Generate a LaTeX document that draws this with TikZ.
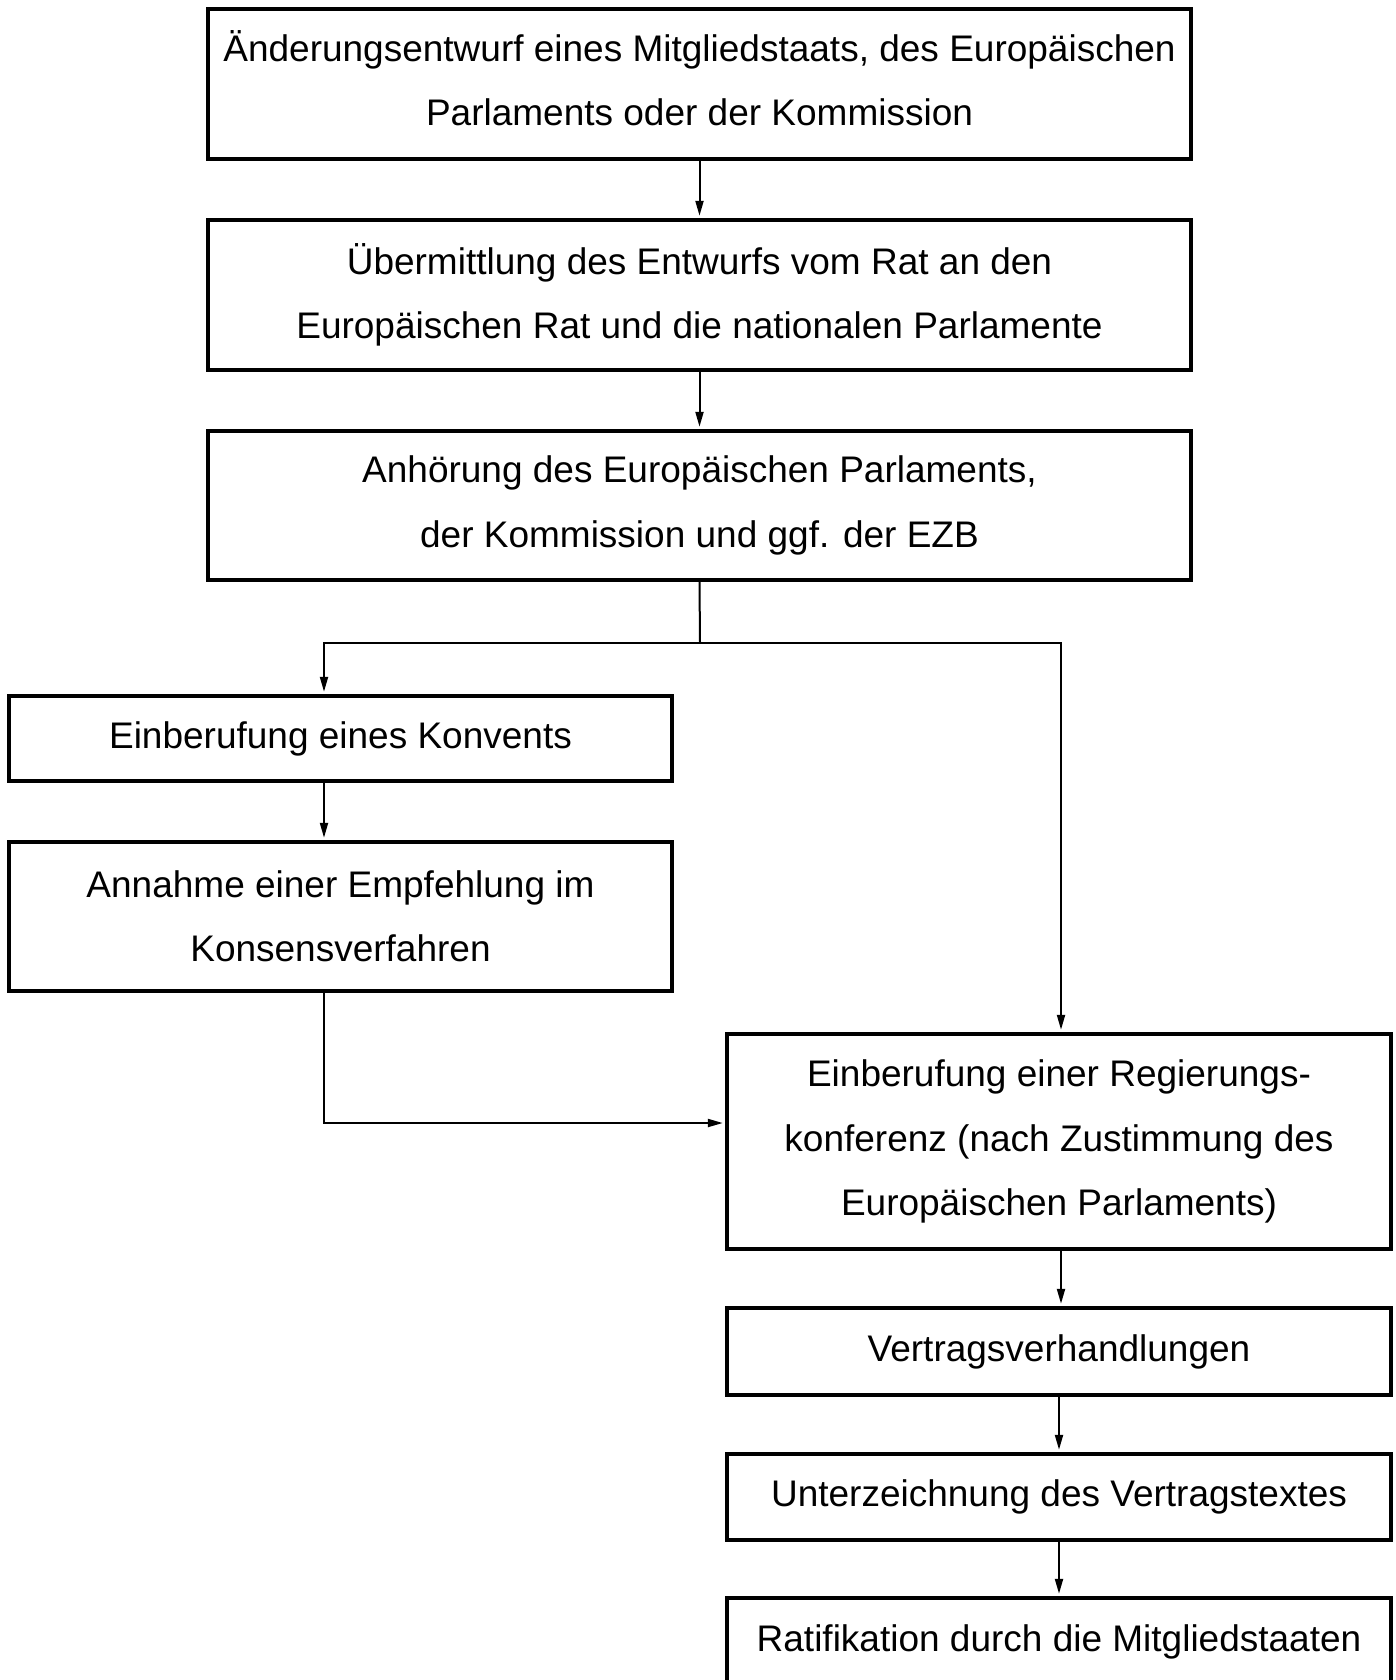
\documentclass[tikz,border=0pt]{standalone}
\usepackage{fontspec}
\setmainfont{Liberation Sans}
\usetikzlibrary{arrows.meta}
\begin{document}
\begin{tikzpicture}[x=0.5pt,y=-0.5pt,
  box/.style={draw, line width=2.2pt, inner sep=0pt, align=center,
    font=\fontsize{18.5}{32.2}\selectfont},
  line/.style={line width=1pt},
  arr/.style={line width=1pt, -{Triangle[length=7.5pt,width=4pt]}, shorten >=1pt}]
\clip (0,0) rectangle (1396,1680);
\useasboundingbox (0,0) rectangle (1396,1680);
\node[box, minimum width=491.5pt, minimum height=75pt] (b1) at (699.5,84)
  {Änderungsentwurf eines Mitgliedstaats, des Europäischen\\Parlaments oder der Kommission\rule[-6pt]{0pt}{0pt}};
\node[box, minimum width=491.5pt, minimum height=75pt] (b2) at (699.5,295)
  {Übermittlung des Entwurfs vom Rat an den\\Europäischen Rat und die nationalen Parlamente};
\node[box, minimum width=491.5pt, minimum height=74.5pt] (b3) at (699.5,505.5)
  {Anhörung des Europäischen Parlaments,\\der Kommission und ggf. der EZB};
\node[box, minimum width=331.5pt, minimum height=42.5pt] (b4) at (340.5,738.5)
  {Einberufung eines Konvents};
\node[box, minimum width=331.5pt, minimum height=74.5pt] (b5) at (340.5,916.5)
  {Annahme einer Empfehlung im\\Konsensverfahren};
\node[box, minimum width=332pt, minimum height=107.5pt] (b6) at (1059,1141.5)
  {Einberufung einer Regierungs-\\konferenz (nach Zustimmung des\\Europäischen Parlaments)};
\node[box, minimum width=332pt, minimum height=43.5pt] (b7) at (1059,1351.5)
  {Vertragsverhandlungen};
\node[box, minimum width=332pt, minimum height=43pt] (b8) at (1059,1497)
  {Unterzeichnung des Vertragstextes};
\node[box, minimum width=332pt, minimum height=44pt] (b9) at (1059,1642)
  {Ratifikation durch die Mitgliedstaaten};
\coordinate (split) at (700,643);
\coordinate (lx) at (324,0);
\coordinate (rx) at (1061,0);
\coordinate (join) at (324,1123);
\draw[arr] (b1.south) -- (b2.north);
\draw[arr] (b2.south) -- (b3.north);
\draw[line] (b3.south) -- (split);
\draw[arr] (split) -| (b4.north -| lx);
\draw[arr] (split) -| (b6.north -| rx);
\draw[arr] (b4.south -| lx) -- (b5.north -| lx);
\draw[arr] (b5.south -| lx) |- (b6.west |- join);
\draw[arr] (b6.south -| rx) -- (b7.north -| rx);
\draw[arr] (b7.south) -- (b8.north);
\draw[arr] (b8.south) -- (b9.north);
\end{tikzpicture}
\end{document}
